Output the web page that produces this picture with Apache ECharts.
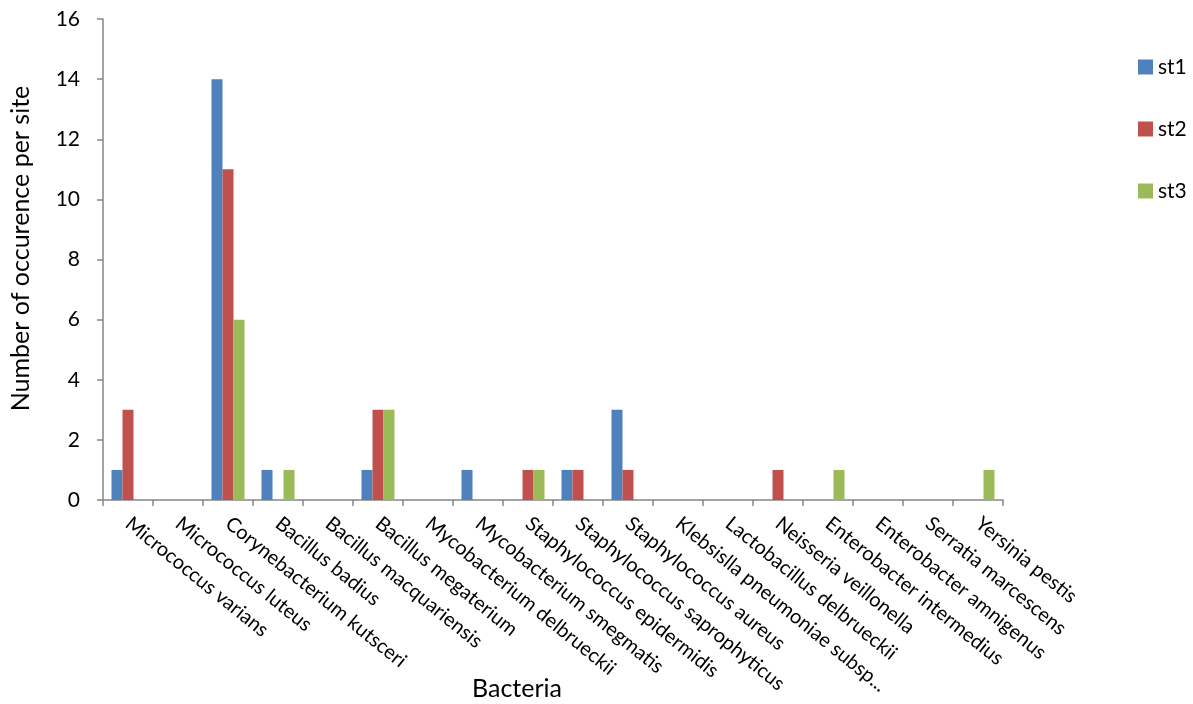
<!DOCTYPE html>
<html>
<head>
<meta charset="utf-8">
<script src="https://cdn.jsdelivr.net/npm/echarts@6/dist/echarts.min.js"></script>
<style>
  html, body { margin: 0; padding: 0; background: #fff; }
  #chart { width: 1193px; height: 704px; }
</style>
</head>
<body>
<div id="chart"></div>
<script>
// Bacteria observed at each sampling site
const categories = [
  'Micrococcus varians', 'Micrococcus luteus', 'Corynebacterium kutsceri',
  'Bacillus badius', 'Bacillus macquariensis', 'Bacillus megaterium',
  'Mycobacterium delbrueckii', 'Mycobacterium smegmatis',
  'Staphylococcus epidermidis', 'Staphylococcus saprophyticus',
  'Staphylococcus aureus', 'Klebsislla pneumoniae subsp...',
  'Lactobacillus delbrueckii', 'Neisseria veillonella',
  'Enterobacter intermedius', 'Enterobacter amnigenus',
  'Serratia marcescens', 'Yersinia pestis'
];
const st1 = [1, 0, 14, 1, 0, 1, 0, 1, 0, 1, 3, 0, 0, 0, 0, 0, 0, 0];
const st2 = [3, 0, 11, 0, 0, 3, 0, 0, 1, 1, 1, 0, 0, 1, 0, 0, 0, 0];
const st3 = [0, 0, 6, 1, 0, 3, 0, 0, 1, 0, 0, 0, 0, 0, 1, 0, 0, 1];
const yTicks = [0, 2, 4, 6, 8, 10, 12, 14, 16];

const font = 'Lato, "Open Sans", sans-serif';
const axisGray = '#868686';

const chart = echarts.init(document.getElementById('chart'), null, { renderer: 'canvas' });

const barStyle = (color) => ({
  type: 'bar',
  barGap: '0%',
  barCategoryGap: '34%',
  itemStyle: { color: color },
  emphasis: { disabled: true }
});

chart.setOption({
  animation: false,
  textStyle: { fontFamily: font, color: '#000' },
  grid: { left: 103, right: 190, top: 19, bottom: 204, containLabel: false, outerBoundsMode: 'none' },
  legend: {
    orient: 'vertical',
    left: 1133,
    top: 51,
    itemWidth: 15,
    itemHeight: 15,
    itemGap: 40,
    icon: 'rect',
    textStyle: { fontFamily: font, fontSize: 21, color: '#000', lineHeight: 22 },
    data: ['st1', 'st2', 'st3']
  },
  xAxis: {
    type: 'category',
    data: categories,
    name: 'Bacteria',
    nameLocation: 'middle',
    nameGap: 176,
    nameMoveOverlap: false,
    nameTextStyle: { fontFamily: font, fontSize: 25, color: '#000', padding: [0, 72, 0, 0] },
    axisLine: { show: true, lineStyle: { color: axisGray, width: 1.5 } },
    axisTick: { show: true, alignWithLabel: false, length: 6, lineStyle: { color: axisGray, width: 1.5 } },
    axisLabel: {
      interval: 0,
      rotate: -39,
      margin: 21,
      fontFamily: font,
      fontSize: 20,
      color: '#000'
    },
    splitLine: { show: false }
  },
  yAxis: {
    type: 'value',
    min: yTicks[0],
    max: yTicks[yTicks.length - 1],
    interval: yTicks[1] - yTicks[0],
    name: 'Number of occurence per site',
    nameLocation: 'middle',
    nameGap: 70,
    nameRotate: 90,
    nameMoveOverlap: false,
    nameTextStyle: { fontFamily: font, fontSize: 25, color: '#000', padding: [0, 0, 0, 22] },
    axisLine: { show: true, lineStyle: { color: axisGray, width: 1.5 } },
    axisTick: { show: true, length: 6, lineStyle: { color: axisGray, width: 1.5 } },
    axisLabel: { margin: 23, fontFamily: font, fontSize: 21, color: '#000' },
    splitLine: { show: false }
  },
  series: [
    Object.assign(barStyle('#4F81BD'), { name: 'st1', data: st1 }),
    Object.assign(barStyle('#C0504D'), { name: 'st2', data: st2 }),
    Object.assign(barStyle('#9BBB59'), { name: 'st3', data: st3 })
  ]
});
</script>
</body>
</html>
